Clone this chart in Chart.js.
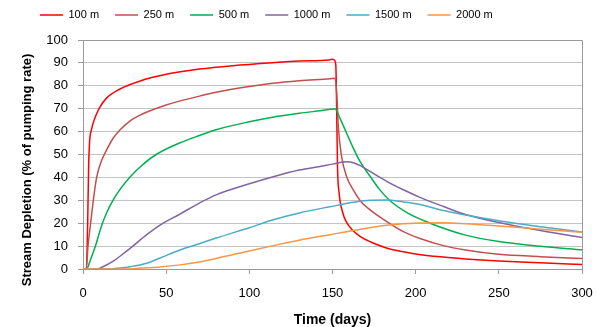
<!DOCTYPE html>
<html><head><meta charset="utf-8">
<script src="https://cdn.jsdelivr.net/npm/chart.js@4/dist/chart.umd.min.js"></script>
<style>html,body{margin:0;padding:0;background:#fff;}</style>
</head><body>
<canvas id="c" width="598" height="327"></canvas>
<script>
// ---- data ----
const seriesNames = ["100 m", "250 m", "500 m", "1000 m", "1500 m", "2000 m"];
const seriesColors = ["#FF0000", "#C0504D", "#00B050", "#8064A2", "#4BACC6", "#F79646"];

const t100 = [0, 2, 2.8, 3.4, 4, 5, 6, 8, 10, 14, 22, 34, 50, 70, 90, 114, 130, 148, 150, 151, 152, 152.5, 153, 154, 156, 158, 162, 167, 173, 182, 190, 200, 215, 230, 250, 275, 300];
const v100 = [0, 0, 20, 45, 56, 60.5, 63.5, 67.5, 70.5, 74.5, 78.5, 82, 85, 87.3, 88.8, 90.1, 90.8, 91.3, 91.6, 91.3, 89, 70, 45, 33, 25, 21, 17, 14, 11.8, 9.3, 7.9, 6.6, 5.3, 4.4, 3.5, 2.7, 2.0];

const t250 = [0, 2, 3, 4.6, 6.2, 8.2, 11, 14.2, 18, 22.2, 28, 34.3, 40, 50, 58, 70, 80, 100, 114, 130, 148.5, 151.5, 152.5, 153.5, 155.5, 158.5, 162.5, 167, 172.6, 182.6, 192.6, 202.6, 216.7, 230, 250, 275, 300];
const v250 = [0, 0, 10, 20, 30, 40, 47, 52, 57, 60.7, 64.5, 67.2, 69, 71.6, 73.3, 75.5, 77.2, 79.7, 81.1, 82.2, 83.1, 83.3, 77, 62, 49, 40.3, 34.5, 29.5, 25.8, 20.7, 16.3, 13.3, 10.2, 8.3, 6.4, 5.4, 4.6];

const t500 = [0, 2.2, 4, 6, 7.5, 9.5, 11.7, 14.5, 18, 22.5, 28, 35, 44, 58, 70, 80, 100, 114, 130, 142.5, 151.5, 154.5, 158.5, 162.5, 166.5, 172.6, 178, 184.6, 195, 208.7, 230, 250, 275, 300];
const v500 = [0, 0, 3, 7, 10, 15, 20, 25, 30, 35, 40, 45, 50, 55, 58.3, 60.8, 64.3, 66.3, 68, 69.1, 69.9, 65.8, 59.3, 52.8, 47, 40.5, 35, 29.8, 24.5, 20, 14.8, 12, 9.9, 8.4];

const t1000 = [0, 8, 12, 18, 23, 28.3, 38.3, 46.3, 58.3, 70, 80.4, 100, 114.4, 130, 142.5, 150, 158.5, 162.5, 167, 172.6, 182.6, 192.6, 202.6, 216.7, 230, 250, 275, 300];
const v1000 = [0, 0, 1, 3.3, 6, 9, 15, 19.2, 24, 28.8, 32.5, 37.2, 40.3, 43.2, 44.8, 45.8, 46.8, 46.4, 45, 42.6, 38.3, 34.6, 31.3, 27.3, 23.8, 20.3, 16.8, 13.8];

const t1500 = [0, 14, 20, 28.3, 38.3, 46.3, 58.3, 70, 80, 100, 114.4, 130, 148.5, 162.5, 172.6, 182.6, 192.6, 202.6, 216.7, 230, 250, 275, 300];
const v1500 = [0, 0, 0.3, 1, 2.5, 4.8, 8.3, 11, 13.5, 18, 21.5, 24.5, 27.2, 29.1, 30, 30.1, 29.3, 28.2, 25.5, 23.6, 21.1, 18.5, 16.2];

const t2000 = [0, 25, 35, 46.3, 58.3, 70, 80, 100, 114.4, 130, 148.5, 162.5, 182.6, 202.6, 216.7, 230, 250, 275, 300];
const v2000 = [0, 0, 0.4, 0.9, 1.8, 3.1, 4.6, 7.9, 10.2, 12.6, 15, 16.8, 19.1, 20.1, 20.2, 19.8, 18.8, 17.4, 16];

const xTicks = [0, 50, 100, 150, 200, 250, 300];
const yTicks = [0, 10, 20, 30, 40, 50, 60, 70, 80, 90, 100];
const xTitle = "Time (days)";
const yTitle = "Stream Depletion (% of pumping rate)";

// ---- build datasets ----
const times = [t100, t250, t500, t1000, t1500, t2000];
const vals = [v100, v250, v500, v1000, v1500, v2000];
const datasets = seriesNames.map((name, i) => ({
  label: name,
  data: times[i].map((t, k) => ({x: t, y: vals[i][k]})),
  borderColor: seriesColors[i],
  backgroundColor: seriesColors[i],
  borderWidth: 1.5,
  pointRadius: 0,
  fill: false,
  cubicInterpolationMode: 'monotone',
  order: seriesNames.length - i
}));

Chart.defaults.font.family = '"Liberation Sans", Arial, sans-serif';
Chart.defaults.color = '#000';

const frame = {
  id: 'frame',
  beforeLayout(chart) {
    const lg = chart.legend;
    if (lg && !lg._patched) {
      const f = lg.fit.bind(lg);
      lg.fit = function () { f(); this.height = 40; };
      lg._patched = true;
    }
  },
  afterLayout(chart) {
    const lg = chart.legend;
    const pad = lg.options.labels.padding;
    lg.left = 40 - pad; lg.right = 598;
    lg.top = 15 - 5.5 - pad; lg.bottom = 40;
  },
  beforeDatasetsDraw(chart) {
    const {ctx, chartArea: a} = chart;
    ctx.save();
    ctx.strokeStyle = '#9a9a9a';
    ctx.lineWidth = 1;
    ctx.beginPath();
    ctx.moveTo(a.left, a.top + 0.5); ctx.lineTo(a.right + 0.5, a.top + 0.5);
    ctx.lineTo(a.right + 0.5, a.bottom);
    ctx.stroke();
    ctx.restore();
  },
  afterDraw(chart) {
    const ctx = chart.ctx;
    ctx.save();
    ctx.translate(27, 170);
    ctx.rotate(-Math.PI / 2);
    ctx.font = 'bold 13px "Liberation Sans", Arial, sans-serif';
    ctx.fillStyle = '#000';
    ctx.textAlign = 'center';
    ctx.textBaseline = 'middle';
    ctx.fillText(yTitle, 0, 0);
    ctx.restore();
  }
};

new Chart(document.getElementById('c'), {
  type: 'line',
  data: {datasets},
  options: {
    responsive: false,
    animation: false,
    devicePixelRatio: 1,
    layout: {padding: {left: 0, right: 16, top: 0, bottom: 0}},
    plugins: {
      tooltip: {enabled: false},
      legend: {
        display: true,
        position: 'top',
        align: 'start',
        labels: {
          usePointStyle: true,
          pointStyle: 'line',
          pointStyleWidth: 23,
          padding: 16,
          font: {size: 11},
          color: '#000',
          sort: (a, b) => a.datasetIndex - b.datasetIndex
        }
      }
    },
    scales: {
      x: {
        type: 'linear', min: 0, max: 300,
        afterBuildTicks: s => { s.ticks = xTicks.map(v => ({value: v})); },
        afterFit: s => { s.height = 58; s.paddingLeft = 0; s.paddingRight = 0; },
        ticks: {font: {size: 13}, padding: 12, color: '#000', maxRotation: 0},
        grid: {display: true, drawOnChartArea: false, tickLength: 5, color: '#9a9a9a'},
        border: {display: true, color: '#9a9a9a', width: 1},
        title: {display: true, text: xTitle, font: {size: 14, weight: 'bold', lineHeight: 1}, padding: {top: 0, bottom: 0}, color: '#000'}
      },
      y: {
        type: 'linear', min: 0, max: 100,
        afterBuildTicks: s => { s.ticks = yTicks.map(v => ({value: v})); },
        afterFit: s => { s.width = 83; s.paddingTop = 0; s.paddingBottom = 0; },
        ticks: {font: {size: 13}, padding: 10, color: '#000'},
        grid: {display: true, color: '#c4c4c4', lineWidth: 1, borderDash: [5, 3], tickLength: 5, tickColor: '#9a9a9a', tickBorderDash: []},
        border: {display: true, color: '#9a9a9a', width: 1}
      }
    }
  },
  plugins: [frame]
});
</script>
</body></html>
